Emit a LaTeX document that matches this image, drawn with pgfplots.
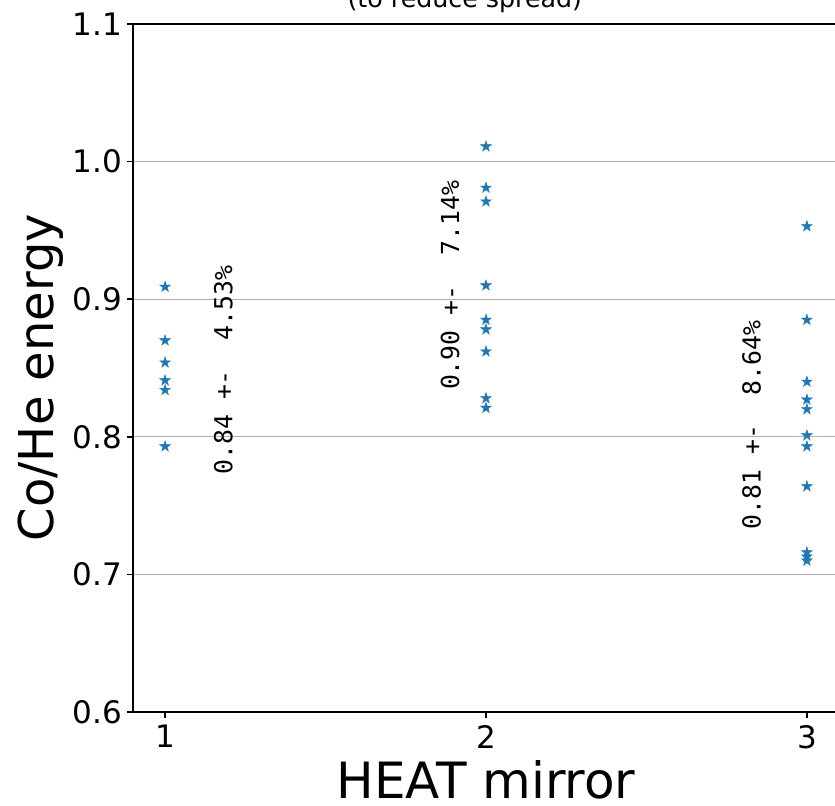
\documentclass[border=0pt]{standalone}
\usepackage{fontspec}
\setmainfont{DejaVu Sans}
\newfontfamily\monofont{DejaVu Sans Mono}
\usepackage{pgfplots}
\pgfplotsset{compat=1.18}
\definecolor{c0}{RGB}{31,119,180}
\definecolor{gridc}{RGB}{176,176,176}

\pgfdeclareplotmark{fstar}{%
  \pgfpathmoveto{\pgfpointpolar{90}{\pgfplotmarksize}}%
  \pgfpathlineto{\pgfpointpolar{126}{0.382\pgfplotmarksize}}%
  \pgfpathlineto{\pgfpointpolar{162}{\pgfplotmarksize}}%
  \pgfpathlineto{\pgfpointpolar{198}{0.382\pgfplotmarksize}}%
  \pgfpathlineto{\pgfpointpolar{234}{\pgfplotmarksize}}%
  \pgfpathlineto{\pgfpointpolar{270}{0.382\pgfplotmarksize}}%
  \pgfpathlineto{\pgfpointpolar{306}{\pgfplotmarksize}}%
  \pgfpathlineto{\pgfpointpolar{342}{0.382\pgfplotmarksize}}%
  \pgfpathlineto{\pgfpointpolar{18}{\pgfplotmarksize}}%
  \pgfpathlineto{\pgfpointpolar{54}{0.382\pgfplotmarksize}}%
  \pgfpathclose
  \pgfusepathqfillstroke
}

\pgfplotstableread{
x y
1 0.909
1 0.870
1 0.854
1 0.841
1 0.834
1 0.793
2 1.011
2 0.981
2 0.971
2 0.910
2 0.885
2 0.878
2 0.862
2 0.828
2 0.821
3 0.953
3 0.885
3 0.840
3 0.827
3 0.820
3 0.801
3 0.793
3 0.764
3 0.716
3 0.713
3 0.710
}\energydata

\begin{document}
\begin{tikzpicture}
\begin{axis}[
  scale only axis,
  width=706bp, height=688bp,
  xmin=0.9, xmax=3.1, ymin=0.6, ymax=1.1,
  xtick={1,2,3},
  ytick={0.6,0.7,0.8,0.9,1.0,1.1},
  ymajorgrids,
  major grid style={gridc, line width=1.3bp},
  tick align=outside,
  major tick length=6bp,
  xtick pos=bottom, ytick pos=left,
  axis line style={black, line width=1.6bp},
  every tick/.style={black, line width=1.6bp},
  /pgf/number format/assume math mode=true,
  ticklabel style={font=\fontsize{31bp}{37bp}\selectfont},
  yticklabel style={/pgf/number format/fixed, /pgf/number format/fixed zerofill, /pgf/number format/precision=1, anchor=east, inner sep=0pt, xshift=-5bp},
  xticklabel style={anchor=north, inner sep=0pt, yshift=-7bp},
  xlabel={HEAT mirror},
  ylabel={Co/He energy},
  xlabel style={font=\fontsize{50bp}{56bp}\selectfont, at={(axis description cs:0.5,-0.125)}, anchor=base, inner sep=0pt},
  ylabel style={font=\fontsize{48bp}{52bp}\selectfont, at={(axis description cs:-0.1133,0.4862)}, anchor=base, inner sep=0pt},
  clip=false,
]
\addplot[only marks, mark=fstar, mark size=5.6bp, color=c0, line width=0.5bp] table[x=x, y=y] {\energydata};

\node[rotate=90, anchor=center, inner sep=0pt, font=\monofont\fontsize{24.8bp}{30bp}\selectfont] at (axis cs:1.1816,0.8485) {0.84~+-~~4.53\%};
\node[rotate=90, anchor=center, inner sep=0pt, font=\monofont\fontsize{24.8bp}{30bp}\selectfont] at (axis cs:1.888,0.9100) {0.90~+-~~7.14\%};
\node[rotate=90, anchor=center, inner sep=0pt, font=\monofont\fontsize{24.8bp}{30bp}\selectfont] at (axis cs:2.828,0.8086) {0.81~+-~~8.64\%};

\node[anchor=base, inner sep=0pt, font=\fontsize{25.3bp}{30bp}\selectfont] at (axis description cs:0.470,1.0247) {(to reduce spread)};
\end{axis}
\pgfresetboundingbox
\path[use as bounding box] (-133bp,-94bp) rectangle (702bp,712bp);
\end{tikzpicture}
\end{document}
